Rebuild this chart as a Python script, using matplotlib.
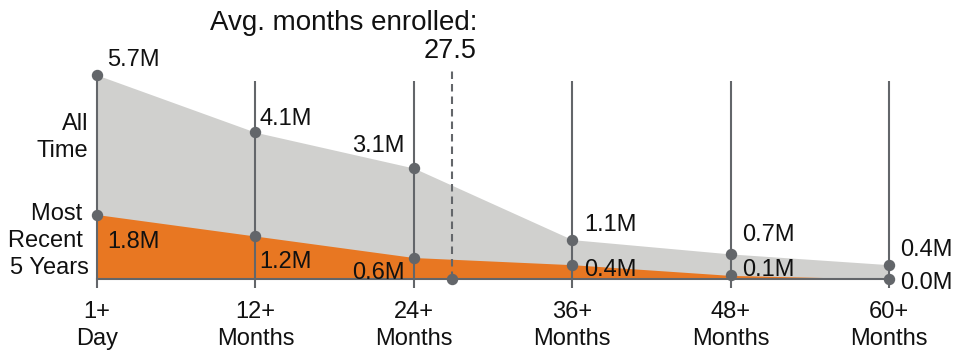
import matplotlib
matplotlib.use("Agg")
import matplotlib.pyplot as plt
import numpy as np

plt.rcParams['font.family'] = ['Liberation Sans', 'DejaVu Sans']

# ---- data ----
categories = ["1+\nDay", "12+\nMonths", "24+\nMonths", "36+\nMonths", "48+\nMonths", "60+\nMonths"]
all_time = [5.7, 4.1, 3.1, 1.1, 0.7, 0.4]          # millions
recent_5y = [1.8, 1.2, 0.6, 0.4, 0.1, 0.0]         # millions
avg_months = 27.5

# ---- styles / positions ----
GRAY_FILL = "#d0d0ce"
ORANGE = "#e87722"
LINE = "#63666a"
TXT = "#111111"
FS = 17
LW = 1.5
MS = 7.2
avg_pos = 2.24        # category-axis position of the average marker
grid_top = 5.53
dash_top = 5.9

# label offsets (pixels): (ha, dx, dy)
all_off = [("left", 10, 9), ("left", 4, 7), ("right", -9, 16),
           ("left", 12, 9), ("left", 12, 13), ("left", 11, 9)]
rec_off = [("left", 10, -33), ("left", 4, -32), ("right", -9, -21),
           ("left", 12, -11), ("left", 12, -1), ("left", 11, -10)]

W, H = 954, 352
fig = plt.figure(figsize=(W / 100, H / 100), dpi=100)
base_px = 279
ax = fig.add_axes([0, (H - base_px) / H, 1, base_px / H])
px_per_unit_x = 158.4
px_per_m = 35.79
ax.set_xlim(-97 / px_per_unit_x, (W - 97) / px_per_unit_x)
ax.set_ylim(0, base_px / px_per_m)

x = np.arange(len(categories))

ax.fill_between(x, 0, all_time, color=GRAY_FILL, lw=0, zorder=1)
ax.fill_between(x, 0, recent_5y, color=ORANGE, lw=0, zorder=2)

tops = [max(grid_top, v) for v in all_time]
ax.vlines(x, 0, tops, color=LINE, lw=LW, zorder=3)

ax.vlines([avg_pos], 0, dash_top, color=LINE, lw=LW, linestyles=(0, (3.6, 2.4)), zorder=3)
ax.plot([avg_pos], [0], "o", color=LINE, ms=MS, clip_on=False, zorder=5)

ax.plot(x, all_time, "o", color=LINE, ms=MS, lw=0, clip_on=False, zorder=5)
ax.plot(x, recent_5y, "o", color=LINE, ms=MS, lw=0, clip_on=False, zorder=5)

for i, v in enumerate(all_time):
    ha, dx, dy = all_off[i]
    ax.annotate(f"{v:.1f}M", (x[i], v), xytext=(dx, dy), textcoords="offset pixels",
                ha=ha, va="baseline", fontsize=FS, color=TXT, zorder=6,
                annotation_clip=False)
for i, v in enumerate(recent_5y):
    ha, dx, dy = rec_off[i]
    ax.annotate(f"{v:.1f}M", (x[i], v), xytext=(dx, dy), textcoords="offset pixels",
                ha=ha, va="baseline", fontsize=FS, color=TXT, zorder=6,
                annotation_clip=False)

ax.annotate("Avg. months enrolled:", (avg_pos, dash_top), xytext=(26, 38),
            textcoords="offset pixels", ha="right", va="baseline", fontsize=20,
            color=TXT, annotation_clip=False)
ax.annotate(f"{avg_months}", (avg_pos, dash_top), xytext=(25, 10),
            textcoords="offset pixels", ha="right", va="baseline", fontsize=19.5,
            color=TXT, annotation_clip=False)

# series names on the left
ax.annotate("All\nTime", (0, 0), xytext=(-9, 122),
            textcoords="offset pixels", ha="right", va="baseline", fontsize=FS,
            multialignment="right", linespacing=1.3, color=TXT, annotation_clip=False)
ax.annotate("Most \nRecent \n5 Years", (0, 0), xytext=(-8, 5),
            textcoords="offset pixels", ha="right", va="baseline", fontsize=FS,
            multialignment="right", linespacing=1.3, color=TXT, annotation_clip=False)

for s in ["top", "left", "right"]:
    ax.spines[s].set_visible(False)
ax.spines["bottom"].set_color(LINE)
ax.spines["bottom"].set_linewidth(LW)
ax.spines["bottom"].set_bounds(0, len(categories) - 1)
ax.spines["bottom"].set_zorder(4)
ax.set_yticks([])
ax.set_xticks(x, categories, fontsize=FS, color=TXT, linespacing=1.3)
ax.tick_params(axis="x", direction="out", length=6.5, width=LW, color=LINE, pad=9)
ax.patch.set_visible(False)

fig.savefig("out.png", dpi=100)
